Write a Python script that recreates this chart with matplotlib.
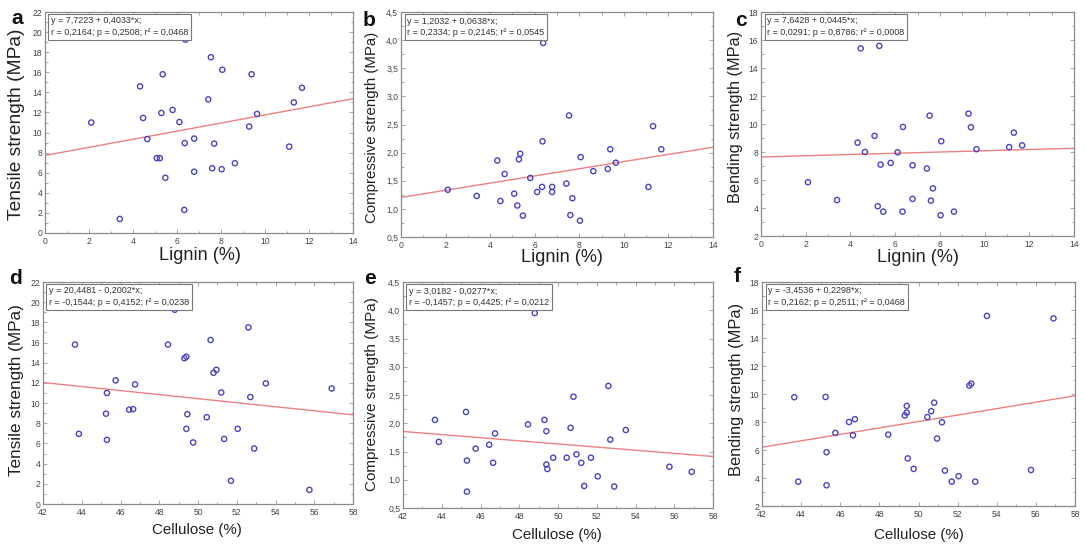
import numpy as np
import matplotlib
matplotlib.use("Agg")
import matplotlib.pyplot as plt
from matplotlib.ticker import MultipleLocator, FuncFormatter

plt.rcParams["font.family"] = ["Liberation Sans", "DejaVu Sans"]

# one entry per sample (bending missing for one sample)
lignin = [2.10, 3.40, 4.32, 4.46, 4.65, 5.08, 5.22, 5.29, 5.35, 5.47,
          5.80, 6.11, 6.33, 6.35, 6.38, 6.78, 6.78, 7.42, 7.54, 7.60,
          7.69, 8.03, 8.06, 8.63, 9.28, 9.39, 9.64, 11.10, 11.31, 11.68]
cellulose = [45.30, 55.75, 49.40, 56.90, 46.45, 49.40, 52.05, 53.50, 48.45, 52.90,
             45.75, 51.20, 51.70, 45.25, 48.80, 46.65, 49.75, 50.95, 52.60, 51.35,
             49.45, 45.30, 50.65, 43.85, 52.70, 43.65, 46.75, 50.45, 50.80, 49.30]
tensile = [11.0, 1.4, 14.6, 11.45, 9.35, 7.45, 7.45, 11.95, 15.8, 5.5,
           12.25, 11.05, 2.3, 8.95, 19.25, 9.4, 6.1, 13.3, 17.5, 6.45,
           8.9, 6.35, 16.25, 6.95, 10.6, 15.8, 11.85, 8.6, 13.0, 14.45]
compressive = [1.34, 1.23, 1.86, 1.14, 1.62, 1.27, 1.06, 1.88, 1.98, 0.88,
               1.55, 1.30, 1.39, 2.20, 3.95, 1.30, 1.39, 1.45, 2.66, 0.89,
               1.19, 0.79, 1.92, 1.67, 1.71, 2.06, 1.82, 1.39, 2.47, 2.06]
bending = [5.84, 4.57, 8.67, 15.40, 8.00, 9.15, 4.13, 15.58, 7.10, 3.74,
           7.22, 7.98, 3.74, 9.79, np.nan, 7.05, 4.65, 6.82, 10.60, 4.53,
           5.40, 3.48, 8.77, 3.74, 10.74, 9.77, 8.20, 8.35, 9.38, 8.47]

# fitted lines as printed in the panels: (intercept, slope, text)
fits = {
    "a": (7.7223, 0.4033, "y = 7,7223 + 0,4033*x;\nr = 0,2164; p = 0,2508; r² = 0,0468"),
    "b": (1.2032, 0.0638, "y = 1,2032 + 0,0638*x;\nr = 0,2334; p = 0,2145; r² = 0,0545"),
    "c": (7.6428, 0.0445, "y = 7,6428 + 0,0445*x;\nr = 0,0291; p = 0,8786; r² = 0,0008"),
    "d": (20.4481, -0.2002, "y = 20,4481 - 0,2002*x;\nr = -0,1544; p = 0,4152; r² = 0,0238"),
    "e": (3.0182, -0.0277, "y = 3,0182 - 0,0277*x;\nr = -0,1457; p = 0,4425; r² = 0,0212"),
    "f": (-3.4536, 0.2298, "y = -3,4536 + 0,2298*x;\nr = 0,2162; p = 0,2511; r² = 0,0468"),
}

W, H = 1085, 545
fig = plt.figure(figsize=(W / 100, H / 100), dpi=100)


def comma(v, pos):
    s = f"{v:.1f}" if abs(v - round(v)) > 1e-9 else f"{v:.0f}"
    return s.replace(".", ",")


def comma1(v, pos):
    return f"{v:.1f}".replace(".", ",")


panels = [
    # key, x, y, xlabel, ylabel, box(px l,t,r,b), xlim, ylim, ystep, yfmt,
    # ylabel size, ylabel xy, xlabel size, xlabel xy
    ("a", lignin, tensile, "Lignin (%)", "Tensile strength (MPa)", (45, 12, 353, 233),
     (0, 14), (0, 22), 2, comma, 13.8, (-0.094, 0.49), 13.1, (0.503, -0.1)),
    ("b", lignin, compressive, "Lignin (%)", "Compressive strength (MPa)", (401, 12, 713, 237),
     (0, 14), (0.5, 4.5), 0.5, comma1, 10.8, (-0.092, 0.487), 13.1, (0.516, -0.092)),
    ("c", lignin, bending, "Lignin (%)", "Bending strength (MPa)", (761, 12, 1074, 236),
     (0, 14), (2, 18), 2, comma, 11.7, (-0.08, 0.53), 13.1, (0.50, -0.098)),
    ("d", cellulose, tensile, "Cellulose (%)", "Tensile strength (MPa)", (43, 282, 353, 504),
     (42, 58), (0, 22), 2, comma, 12.3, (-0.087, 0.513), 10.9, (0.497, -0.117)),
    ("e", cellulose, compressive, "Cellulose (%)", "Compressive strength (MPa)", (403, 282, 713, 508),
     (42, 58), (0.5, 4.5), 0.5, comma1, 11.0, (-0.10, 0.504), 10.9, (0.497, -0.12)),
    ("f", cellulose, bending, "Cellulose (%)", "Bending strength (MPa)", (762, 282, 1075, 506),
     (42, 58), (2, 18), 2, comma, 11.8, (-0.08, 0.52), 10.9, (0.50, -0.13)),
]

letters = {"a": (17, 18), "b": (369, 21), "c": (741, 20),
           "d": (16, 278), "e": (370, 279), "f": (737, 277)}

for (key, xs, ys, xl, yl, (l, t, r, b), xlim, ylim, ystep, yfmt,
     ysz, ylxy, xsz, xlxy) in panels:
    ax = fig.add_axes([l / W, 1 - b / H, (r - l) / W, (b - t) / H])
    x = np.array(xs, dtype=float)
    y = np.array(ys, dtype=float)
    ok = ~np.isnan(y)
    ax.scatter(x[ok], y[ok], s=14, facecolors="none", edgecolors="#4a44c4",
               linewidths=1.0, zorder=3)
    a0, a1, txt = fits[key]
    xx = np.array(xlim, dtype=float)
    ax.plot(xx, a0 + a1 * xx, color="#ee8080", lw=1.0, zorder=2)
    ax.set_xlim(*xlim)
    ax.set_ylim(*ylim)

    ax.xaxis.set_major_locator(MultipleLocator(2))
    ax.xaxis.set_minor_locator(MultipleLocator(1))
    ax.yaxis.set_major_locator(MultipleLocator(ystep))
    ax.yaxis.set_minor_locator(MultipleLocator(ystep / 2))
    ax.xaxis.set_major_formatter(FuncFormatter(comma))
    ax.yaxis.set_major_formatter(FuncFormatter(yfmt))
    ax.tick_params(which="both", direction="in", top=True, right=True,
                   color="#999999", width=0.6, labelsize=6.2, labelcolor="#444444")
    ax.tick_params(axis="x", pad=3)
    ax.tick_params(axis="y", pad=2)
    ax.tick_params(which="major", length=3)
    ax.tick_params(which="minor", length=1.8)
    for sp in ax.spines.values():
        sp.set_color("#8a8a8a")
        sp.set_linewidth(0.9)

    ax.set_ylabel(yl, fontsize=ysz, color="#222222")
    ax.yaxis.set_label_coords(*ylxy)
    ax.yaxis.label.set_va("center")
    ax.set_xlabel(xl, fontsize=xsz, color="#222222")
    ax.xaxis.set_label_coords(*xlxy)
    ax.xaxis.label.set_va("center")

    ax.text(0.02, 0.98, txt, transform=ax.transAxes, ha="left", va="top",
            fontsize=6.5, color="#333333", linespacing=1.35, zorder=5,
            bbox=dict(boxstyle="square,pad=0.3", fc="white", ec="#777777", lw=0.8))

    lx, ly = letters[key]
    fig.text(lx / W, 1 - ly / H, key, fontsize=15, fontweight="bold",
             ha="center", va="center", color="#111111")

fig.savefig("out.png", dpi=100)
